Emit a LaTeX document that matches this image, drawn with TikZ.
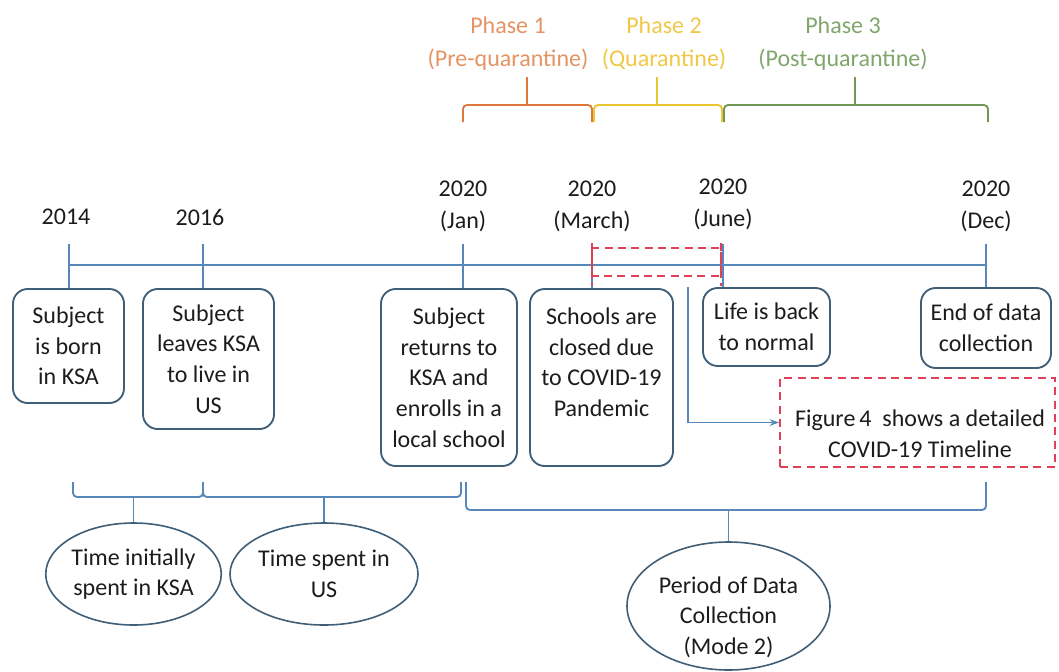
\documentclass[tikz,border=0pt]{standalone}
\usepackage{fontspec}
\setmainfont{Carlito}
\usetikzlibrary{shapes.geometric,arrows.meta}
\definecolor{tlblue}{RGB}{88,136,186}
\definecolor{boxedge}{RGB}{63,94,120}
\definecolor{ph1}{RGB}{224,120,62}
\definecolor{ph1t}{RGB}{228,148,100}
\definecolor{ph2}{RGB}{234,198,48}
\definecolor{ph2t}{RGB}{240,200,70}
\definecolor{ph3}{RGB}{112,152,86}
\definecolor{ph3t}{RGB}{128,166,108}
\definecolor{dashred}{RGB}{224,64,88}
\definecolor{txt}{RGB}{28,28,28}
\begin{document}
\begin{tikzpicture}[x=0.75pt,y=-0.75pt,
  font=\fontsize{18}{23}\selectfont, text=txt,
  evbox/.style={draw=boxedge, line width=1.4pt, rounded corners=11pt, align=center, inner sep=0pt},
  oval/.style={ellipse, draw=boxedge, line width=1.2pt, align=center, inner sep=0pt},
  tl/.style={draw=tlblue, line width=1.4pt},
  yr/.style={align=center, font=\fontsize{18}{24}\selectfont},
  phtext/.style={align=center, font=\fontsize{18}{24.75}\selectfont},
  redbox/.style={draw=dashred, line width=1.4pt, dash pattern=on 6pt off 4pt},
  brace/.style={line width=1.4pt, rounded corners=3pt},
  plain/.style={align=center, inner sep=0pt},
]
\useasboundingbox (0,0) rectangle (1059,671);

% phase labels
\node[phtext, text=ph1t] (p1) at (508,43.5) {Phase 1\\(Pre-quarantine)};
\node[phtext, text=ph2t] (p2) at (664,43.5) {Phase 2\\(Quarantine)};
\node[phtext, text=ph3t] (p3) at (843,43.5) {Phase 3\\(Post-quarantine)};

% phase braces
\draw[brace, draw=ph1] (463,122) |- (527,105) -| (592,122);
\draw[brace, draw=ph1] (527,105) -- (527,77);
\draw[brace, draw=ph2] (594,122) |- (657,105) -| (722,122);
\draw[brace, draw=ph2] (657,105) -- (657,77);
\draw[brace, draw=ph3] (724,122) |- (855,105) -| (988,122);
\draw[brace, draw=ph3] (855,105) -- (855,77);

% year labels
\node[yr] (y1) at (66,217) {2014};
\node[yr] (y2) at (200,217) {2016};
\node[yr] (y3) at (463,206) {2020\\(Jan)};
\node[yr] (y4) at (592,206) {2020\\(March)};
\node[yr] (y5) at (723,204) {2020\\(June)};
\node[yr] (y6) at (986,206) {2020\\(Dec)};

% event boxes
\node[evbox, minimum width=83.25pt, minimum height=85.5pt] (b1) at (68.5,346) {Subject\\is born\\in KSA};
\node[evbox, minimum width=98.25pt, minimum height=105pt] (b2) at (208.5,359) {Subject\\leaves KSA\\to live in\\US};
\node[evbox, minimum width=102pt, minimum height=132.75pt] (b3) at (449,377.5) {Subject\\returns to\\KSA and\\enrolls in a\\local school};
\node[evbox, minimum width=107.25pt, minimum height=132.75pt] (b4) at (601.5,377.5) {Schools are\\closed due\\to COVID-19\\Pandemic\\\mbox{}};
\node[evbox, minimum width=95.25pt, minimum height=58.5pt] (b5) at (766.5,327) {Life is back\\to normal};
\node[evbox, minimum width=97.5pt, minimum height=60pt] (b6) at (986,328) {End of data\\collection};

% timeline
\coordinate (tl0) at (69,265);
\coordinate (tl1) at (986,265);
\draw[tl] (tl0) -- (tl1);
\draw[tl] (69,244) -- (b1.north -| 69,0);
\draw[tl] (203,244) -- (b2.north -| 203,0);
\draw[tl] (463,244) -- (b3.north -| 463,0);
\draw[tl] (592,244) -- (b4.north -| 592,0);
\draw[tl] (723,244) -- (b5.north -| 723,0);
\draw[tl] (986,244) -- (b6.north);

% red dashed highlight
\draw[redbox] (592,248) rectangle (721,276);
\draw[redbox] (592,243) -- (592,286);
\draw[redbox] (721,243) -- (721,286);

% figure 4 note
\node[redbox, minimum width=206.25pt, minimum height=66.75pt] (fig) at (917.5,422.5) {};
\node[plain] (figt) at (920,433.5) {Figure\,4\ \ shows a detailed\\COVID-19 Timeline};
\coordinate (as) at (688,287);
\draw[draw=tlblue, line width=1pt, -{Stealth[length=7pt,width=5pt]}] (as) |- (fig.west);

% ellipses
\node[oval, minimum width=129.75pt, minimum height=76.5pt] (e1) at (133.5,574) {Time initially\\spent in KSA};
\node[oval, minimum width=141pt, minimum height=76.5pt] (e2) at (324,574) {Time spent in\\US};
\node[oval, minimum width=152.25pt, minimum height=96pt] (e3) at (728.5,606) {};
\node[plain] (e3t) at (728.5,617) {Period of Data\\Collection\\(Mode 2)};

% bottom braces
\draw[brace, draw=tlblue] (73,482) |- (133.5,497) -| (203,482);
\draw[brace, draw=tlblue] (133.5,497) -- (e1.north);
\draw[brace, draw=tlblue] (203,482) |- (324,497) -| (461,482);
\draw[brace, draw=tlblue] (324,497) -- (e2.north);
\draw[brace, draw=tlblue] (466,482) |- (728.5,510) -| (986,482);
\draw[brace, draw=tlblue] (728.5,510) -- (e3.north);
\end{tikzpicture}
\end{document}
